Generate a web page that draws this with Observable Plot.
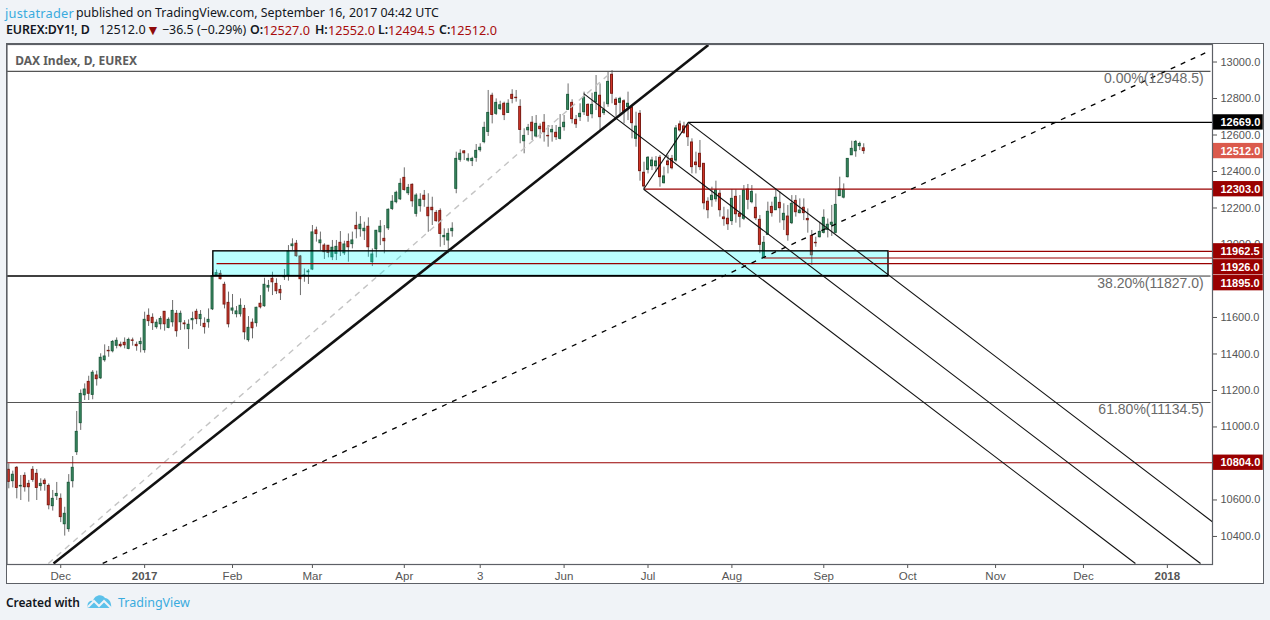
<!DOCTYPE html>
<html>
<head>
<meta charset="utf-8">
<script src="https://cdn.jsdelivr.net/npm/d3@7"></script>
<script src="https://cdn.jsdelivr.net/npm/@observablehq/plot@0.6"></script>
<style>
html,body{margin:0;padding:0;background:#f0f3f7;width:1270px;height:620px;overflow:hidden}
.hdr{position:absolute;white-space:pre;font:12.4px "Noto Sans","Open Sans",sans-serif;color:#131722}
.b{font-weight:600}
.r{color:#a80d0d;font-size:12.7px}
#panel{position:absolute;left:6px;top:43px;width:1256px;height:539px;background:#fff;border:1.5px solid #5d6066}
#chart{position:absolute;left:0;top:43px}
</style>
</head>
<body>
<div class="hdr" style="left:5px;top:4px;color:#3aabde;letter-spacing:.25px;font-size:12.8px">justatrader</div>
<div class="hdr" style="left:76px;top:4px">published on TradingView.com, September 16, 2017 04:42 UTC</div>
<div class="hdr b" style="left:6px;top:21px;letter-spacing:-.1px">EUREX:DY1!, D</div>
<div class="hdr" style="left:99px;top:21px;font-size:12.6px">12512.0</div>
<div class="hdr" style="left:146px;top:20px;color:#8f0a0a;font-size:14px">▼</div>
<div class="hdr" style="left:162px;top:21px">−36.5 (−0.29%)</div>
<div class="hdr b" style="left:250px;top:21px">O:</div><div class="hdr r" style="left:263px;top:21px">12527.0</div>
<div class="hdr b" style="left:315px;top:21px">H:</div><div class="hdr r" style="left:328px;top:21px">12552.0</div>
<div class="hdr b" style="left:378px;top:21px">L:</div><div class="hdr r" style="left:388px;top:21px">12494.5</div>
<div class="hdr b" style="left:439px;top:21px">C:</div><div class="hdr r" style="left:450px;top:21px">12512.0</div>
<div id="panel"></div>
<div id="chart"></div>
<div class="hdr b" style="left:6px;top:594px;font-size:12px;letter-spacing:-.1px">Created with</div>
<svg style="position:absolute;left:87px;top:593px" width="26" height="17" viewBox="0 0 26 17"><path d="M1 15C-1 10 3 7 6 8C7 2 15 0 18 5C22 5 25 10 24 15Z" fill="#5cc1ea"/><path d="M1 14L7 8L12 13L17 8L24 15" fill="none" stroke="#f0f3f7" stroke-width="2"/></svg>
<div class="hdr" style="left:118px;top:594px;color:#3aabde;font-size:12.5px">TradingView</div>
<script>
const opens = [10765,10703,10776,10674,10732,10688,10765,10743,10676,10705,
10677,10566,10621,10606,10467,10440,10703,10862,11021,11174,
11247,11176,11282,11267,11366,11417,11415,11445,11450,11461,
11428,11474,11450,11454,11421,11609,11598,11547,11563,11631,
11543,11574,11620,11574,11567,11536,11585,11631,11591,11565,
11574,11645,11832,11839,11779,11680,11638,11618,11618,11647,
11476,11571,11569,11675,11662,11764,11812,11784,11751,11821,
11832,11991,12004,11934,11828,11848,11863,12077,12007,11994,
11993,11930,11949,12009,11952,12014,12002,12102,12084,12073,
12097,11903,11974,12067,12031,12089,12195,12232,12248,12365,
12281,12327,12168,12210,12267,12201,12201,12173,12183,12040,
12022,12073,12305,12464,12510,12460,12457,12475,12517,12561,
12617,12815,12716,12742,12771,12721,12820,12804,12754,12566,
12626,12667,12592,12645,12667,12595,12615,12612,12579,12643,
12738,12776,12683,12698,12725,12765,12714,12780,12815,12720,
12769,12930,12793,12776,12785,12752,12752,12579,12716,12393,
12409,12429,12429,12475,12336,12455,12469,12460,12658,12647,
12652,12559,12449,12497,12442,12234,12243,12248,12278,12148,
12141,12128,12261,12168,12141,12301,12232,12201,12135,11930,
12053,12206,12188,12228,12133,12153,12117,12239,12172,12201,
12140,12047,12009,12040,12064,12080,12108,12064,12265,12257,
12369,12489,12511,12539,12527];
const highs = [10798,10758,10783,10734,10749,10707,10783,10767,10716,10716,
10688,10652,10696,10633,10560,10739,10838,11085,11203,11236,
11278,11309,11306,11401,11450,11441,11474,11488,11465,11488,
11487,11487,11465,11488,11629,11647,11620,11587,11605,11633,
11598,11693,11638,11635,11583,11587,11629,11645,11638,11598,
11647,11848,11860,11857,11793,11739,11726,11660,11702,11666,
11605,11592,11656,11720,11815,11803,11848,11812,11775,11863,
11994,12031,12022,11940,11866,11863,12104,12095,12068,12004,
11994,12022,12022,12071,12018,12058,12068,12177,12153,12122,
12146,11976,12077,12131,12104,12195,12268,12292,12360,12420,
12329,12332,12278,12278,12296,12278,12259,12186,12195,12086,
12086,12119,12506,12519,12515,12497,12478,12548,12552,12670,
12844,12829,12798,12785,12780,12793,12848,12844,12793,12634,
12658,12701,12707,12661,12712,12652,12652,12652,12712,12707,
12880,12793,12707,12771,12835,12771,12829,12926,12880,12780,
12944,12953,12804,12807,12793,12835,12752,12725,12734,12451,
12482,12478,12482,12488,12424,12488,12488,12652,12676,12670,
12665,12579,12506,12570,12442,12256,12314,12347,12296,12204,
12190,12301,12299,12268,12323,12329,12323,12277,12159,12044,
12232,12232,12305,12287,12223,12214,12268,12268,12250,12250,
12195,12077,12040,12122,12190,12140,12214,12300,12369,12332,
12469,12566,12570,12561,12552];
const lows = [10661,10666,10606,10597,10643,10588,10697,10597,10648,10648,
10546,10539,10597,10476,10402,10423,10666,10844,10981,11145,
11145,11149,11224,11260,11355,11382,11406,11428,11434,11428,
11423,11443,11415,11406,11404,11551,11529,11536,11532,11525,
11538,11547,11492,11529,11532,11425,11532,11561,11551,11509,
11541,11638,11825,11806,11647,11543,11616,11598,11602,11477,
11465,11483,11547,11647,11656,11739,11720,11726,11693,11803,
11799,11967,11930,11720,11793,11781,11857,12013,11967,11918,
11927,11912,11912,11934,11940,11903,11976,12031,12040,12022,
11930,11879,11927,11994,11949,12077,12186,12223,12241,12292,
12268,12204,12150,12177,12204,12067,12104,12122,11985,11994,
11949,12040,12278,12451,12460,12451,12427,12451,12506,12552,
12592,12661,12707,12734,12679,12720,12771,12780,12552,12497,
12597,12570,12584,12579,12561,12533,12561,12570,12573,12621,
12734,12661,12636,12674,12707,12670,12689,12734,12625,12707,
12752,12771,12698,12707,12661,12679,12579,12533,12347,12305,
12387,12405,12396,12314,12332,12387,12409,12451,12615,12603,
12537,12387,12387,12405,12190,12141,12204,12232,12150,12100,
12077,12104,12117,12091,12131,12190,12223,12131,11950,11927,
12049,12150,12186,12117,12077,12018,12109,12150,12168,12131,
12062,11885,11985,12036,12058,12036,12044,12058,12263,12250,
12365,12488,12478,12515,12494.5];
const closes = [10699,10738,10666,10677,10670,10670,10710,10666,10688,10687,
10571,10606,10633,10506,10524,10694,10776,10973,11181,11205,
11182,11297,11262,11379,11386,11415,11466,11472,11443,11448,
11477,11472,11443,11466,11587,11580,11569,11571,11592,11563,
11587,11636,11525,11620,11563,11560,11592,11591,11614,11547,
11587,11826,11843,11810,11671,11563,11649,11633,11664,11519,
11543,11541,11653,11656,11779,11773,11793,11744,11733,11824,
11961,12000,11936,11810,11830,11852,12066,12057,12022,11958,
11954,11982,11987,11963,12000,11985,12022,12084,12108,12086,
11985,11945,12075,12097,12018,12190,12234,12283,12332,12299,
12310,12237,12268,12245,12245,12155,12188,12128,12058,12047,
12058,12086,12469,12497,12500,12469,12469,12513,12530,12639,
12721,12710,12776,12763,12709,12771,12798,12802,12628,12595,
12639,12621,12661,12632,12615,12593,12628,12588,12639,12667,
12820,12687,12659,12716,12804,12705,12765,12831,12698,12738,
12891,12826,12765,12798,12727,12771,12665,12646,12402,12318,
12475,12460,12455,12369,12373,12435,12418,12636,12625,12612,
12588,12424,12435,12424,12226,12188,12267,12296,12188,12139,
12111,12250,12166,12152,12296,12245,12288,12144,11998,12009,
12179,12172,12256,12199,12168,12051,12223,12177,12186,12172,
12133,11941,12007,12069,12146,12108,12119,12217,12301,12299,
12469,12524,12562,12551,12512];

// axis labels, at bar numbers
const monthTickBars = [13,56,76,99,118,139,160,181,204,225,247,269];
const monthTickLabels = ["Dec","Feb","Mar","Apr","3","Jun","Jul","Aug","Sep","Oct","Nov","Dec"];
const yearTickBars = [34,290];
const yearTickLabels = ["2017","2018"];
const priceTicks = [10400,10600,10800,11000,11200,11400,11600,11800,12000,12200,12400,12600,12800,13000];

// horizontal levels: price, first bar, last bar, colour, thickness
const levelPrices = [12948.5,12669,12303,11962.5,11926,11895,11827,11827,11134.5,10804];
const levelStart  = [-0.45,170,159,220.2,189,52,-0.45,220.2,-0.45,-0.45];
const levelEnd    = [300.8,301.3,301.3,301.3,301.3,301.3,220.2,300.8,300.8,301.3];
const levelColors = ["#555","#000","#990000","#990000","#990000","#990000","#000","#333","#555","#990000"];
const levelWidths = [1.1,1.2,1.2,1.2,1.2,1.2,1.6,1,1.1,1.2];

// support box
const boxBars = [51.2,220.2];
const boxPrices = [11827,11962.5];

// solid drawn lines: bar and price of both ends
const trendBar1 = [11.2,170.1,143.9,158.9,158.9];
const trendPrice1 = [10252,12669,12827,12303,12303];
const trendBar2 = [175.1,301.3,298.3,282,170.1];
const trendPrice2 = [13093,10480,10252,10252,12669];
const trendWidths = [2.6,1.1,1.1,1.1,1.1];
// dashed drawn lines
const greyDash = {bar1:9.9,price1:10252,bar2:150.6,price2:12940};
const blackDash = {bar1:23.5,price1:10252,bar2:300.8,price2:13063};

// percentage notes: text and the price they sit at
const fibTexts = ["0.00%(12948.5)","38.20%(11827.0)","61.80%(11134.5)"];
const fibPrices = [12911,11786,11096];

// price flags: text, price where the flag is centred, colour
const flagTexts = ["12669.0","12512.0","12303.0","11962.5","11926.0","11895.0","10804.0"];
const flagCentres = [12669,12512,12303,11962.5,11875,11788,10804];
const flagColors = ["#000","#db5a4c","#990000","#990000","#990000","#990000","#990000"];

const bars = opens.map((o,i)=>({i,o,h:highs[i],l:lows[i],c:closes[i],up:closes[i]>=o}));
const levels = levelPrices.map((p,k)=>({p,a:levelStart[k],b:levelEnd[k],col:levelColors[k],w:levelWidths[k]}));
const trends = trendBar1.map((a,k)=>({a,p1:trendPrice1[k],b:trendBar2[k],p2:trendPrice2[k],w:trendWidths[k]}));
const flags = flagTexts.map((t,k)=>({t,c:flagCentres[k],col:flagColors[k]}));
const fibs = fibTexts.map((t,k)=>({t,p:fibPrices[k]}));
const GREY="#555";
const dashed = (d,stroke,strokeWidth,strokeDasharray)=>Plot.link([d],{x1:"bar1",y1:"price1",x2:"bar2",y2:"price2",stroke,strokeWidth,strokeDasharray,clip:true});

const chart = Plot.plot({
  width:1270,height:541,
  marginLeft:6.5,marginRight:58,marginTop:1,marginBottom:20,
  x:{domain:[-0.45,301.3]},
  y:{domain:[10246.3,13096]},
  style:{background:"transparent",fontFamily:"'Liberation Sans',Arial,sans-serif",fontSize:"11px",overflow:"visible"},
  marks:[
    Plot.axisX(monthTickBars,{anchor:"bottom",label:null,tickSize:4,tickPadding:3,stroke:GREY,fill:GREY,fontSize:11.5,
      tickFormat:b=>monthTickLabels[monthTickBars.indexOf(b)]}),
    Plot.axisX(yearTickBars,{anchor:"bottom",label:null,tickSize:4,tickPadding:3,stroke:GREY,fill:GREY,fontSize:11.5,fontWeight:"bold",
      tickFormat:b=>yearTickLabels[yearTickBars.indexOf(b)]}),
    Plot.axisY(priceTicks,{anchor:"right",label:null,tickSize:4,tickPadding:4,stroke:GREY,fill:GREY,fontSize:11,tickFormat:v=>v.toFixed(1)}),
    Plot.ruleX(bars,{x:"i",y1:"l",y2:"h",stroke:"#6d6d6d",strokeWidth:1,clip:true}),
    Plot.rect(bars,{x1:d=>d.i-0.24,x2:d=>d.i+0.24,y1:"o",y2:"c",
      fill:d=>d.up?"#3c9066":"#d8382b",stroke:d=>d.up?"#1d5c3d":"#7c1a12",strokeWidth:1,clip:true}),
    dashed(greyDash,"#c4c4c4",1.4,"6 5"),
    Plot.rect([0],{x1:boxBars[0],x2:boxBars[1],y1:boxPrices[0],y2:boxPrices[1],fill:"#00ffff",fillOpacity:0.27,stroke:"#000",strokeWidth:1.4}),
    Plot.link(levels,{x1:"a",x2:"b",y1:"p",y2:"p",stroke:d=>d.col,strokeWidth:d=>d.w}),
    Plot.link(trends,{x1:"a",y1:"p1",x2:"b",y2:"p2",stroke:"#111",strokeWidth:d=>d.w,clip:true}),
    dashed(blackDash,"#000",1.3,"5 6"),
    Plot.text(fibs,{x:299.1,y:"p",text:"t",textAnchor:"end",fill:"#6a6a6a",fontSize:14}),
    Plot.rect(flags,{x1:301.4,x2:314,y1:d=>d.c-42,y2:d=>d.c+42,fill:d=>d.col}),
    Plot.text(flags,{x:303.3,y:"c",text:"t",textAnchor:"start",fill:"#fff",fontWeight:"bold",fontSize:11}),
    Plot.frame({stroke:"#5d6066",strokeWidth:1.2}),
    Plot.text(["DAX Index, D, EUREX"],{x:1.6,y:13006,text:d=>d,textAnchor:"start",fill:"#5d5d5d",fontWeight:"bold",fontSize:12,fontFamily:"'Noto Sans',sans-serif"})
  ]
});
document.getElementById("chart").appendChild(chart);
</script>
</body>
</html>
